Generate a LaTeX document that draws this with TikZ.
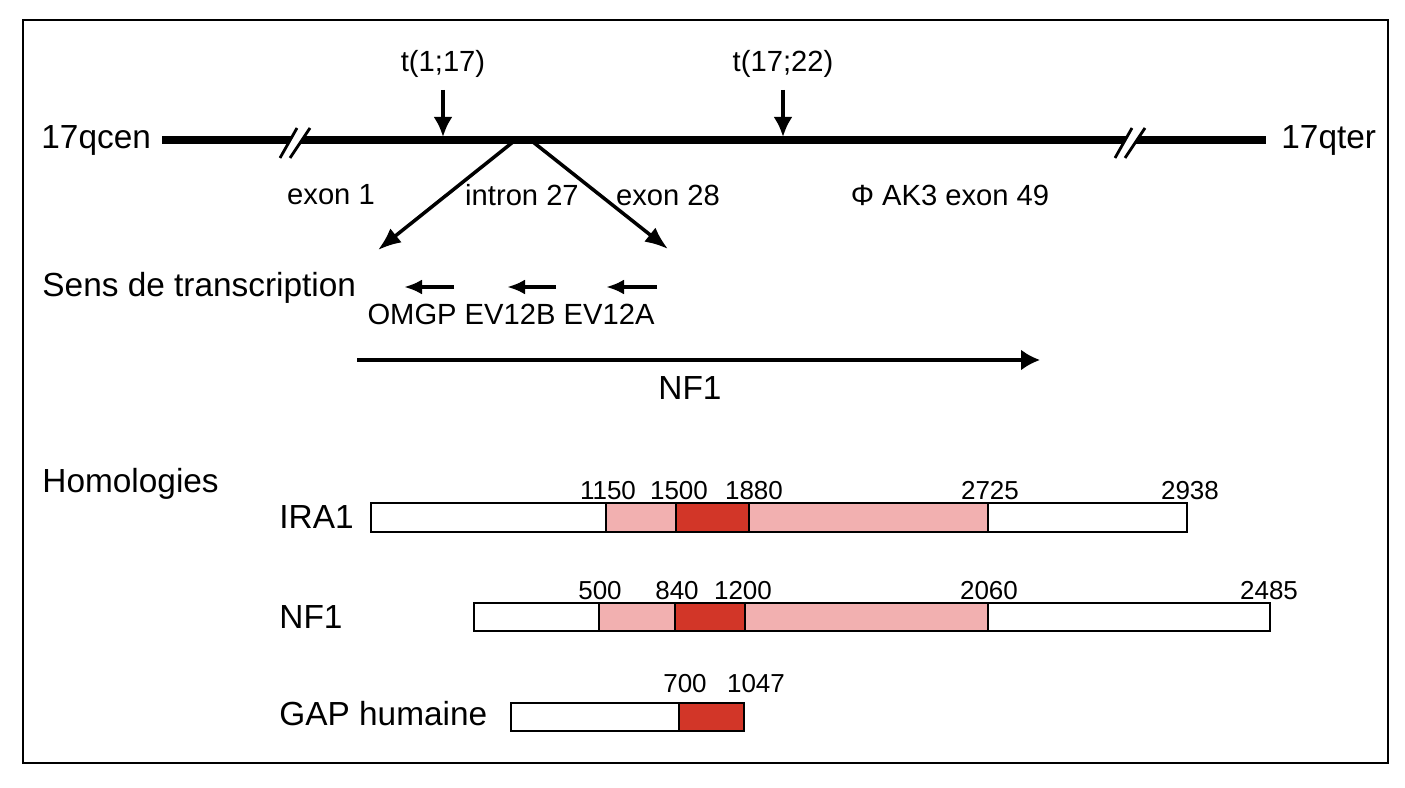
\documentclass[tikz,border=0pt]{standalone}
\usepackage{fontspec}
\setmainfont{Liberation Sans}
\usetikzlibrary{arrows.meta}
\definecolor{rose}{RGB}{242,176,176}
\definecolor{rouge}{RGB}{210,54,40}
\begin{document}
\begin{tikzpicture}[font=\fontsize{9.5}{11}\selectfont,
  moyen/.style={font=\fontsize{8.3}{10}\selectfont},
  chiffre/.style={font=\fontsize{7.4}{9}\selectfont},
  fleche/.style={-{Latex[length=2mm,width=1.9mm]}, line width=1.1pt},
  biais/.style={-{Latex[length=2.3mm,width=1.8mm]}, line width=1pt},
  petite/.style={-{Latex[length=1.8mm,width=1.5mm]}, line width=1.1pt},
  bord/.style={draw, line width=0.7pt}]
\useasboundingbox (0,0) rectangle (14.05,7.88);
% Cadre
\draw[line width=0.7pt] (0.23,0.25) rectangle (13.88,7.68);
% Chromosome 17q
\node[anchor=west] (cen) at (0.29,6.48) {17qcen};
\node[anchor=west] (ter) at (12.69,6.48) {17qter};
\draw[line width=2pt] (1.62,6.48) -- (12.66,6.48);
% Coupures
\fill[white] (2.80,6.30) -- (2.97,6.60) -- (3.10,6.60) -- (2.90,6.30) -- cycle;
\draw[line width=0.8pt] (2.80,6.30) -- (2.97,6.60) (2.90,6.30) -- (3.10,6.60);
\fill[white] (11.15,6.30) -- (11.32,6.60) -- (11.45,6.60) -- (11.25,6.30) -- cycle;
\draw[line width=0.8pt] (11.15,6.30) -- (11.32,6.60) (11.25,6.30) -- (11.45,6.60);
% Translocations
\node[moyen] (t117) at (4.43,7.24) {t(1;17)};
\node[moyen] (t1722) at (7.83,7.24) {t(17;22)};
\coordinate (p117) at (4.43,6.51);
\coordinate (p1722) at (7.83,6.51);
\draw[fleche] (t117.south) -- (p117);
\draw[fleche] (t1722.south) -- (p1722);
% Exons
\node[moyen] (ex1) at (3.31,5.93) {exon 1};
\node[moyen] (in27) at (5.22,5.93) {intron 27};
\node[moyen] (ex28) at (6.68,5.93) {exon 28};
\node[moyen] (ak3) at (9.50,5.93) {Φ AK3 exon 49};
\coordinate (d1) at (5.13,6.46);
\coordinate (d2) at (5.33,6.46);
\coordinate (g1) at (3.78,5.38);
\coordinate (g2) at (6.68,5.39);
\draw[biais] (d1) -- (g1);
\draw[biais] (d2) -- (g2);
% Sens de transcription
\node[anchor=west] (sens) at (0.30,5.00) {Sens de transcription};
\coordinate (a1) at (4.54,5.01); \coordinate (b1) at (4.04,5.01);
\coordinate (a2) at (5.56,5.01); \coordinate (b2) at (5.07,5.01);
\coordinate (a3) at (6.57,5.01); \coordinate (b3) at (6.06,5.01);
\draw[petite] (a1) -- (b1);
\draw[petite] (a2) -- (b2);
\draw[petite] (a3) -- (b3);
\node[moyen] (genes) at (5.11,4.74) {OMGP EV12B EV12A};
\coordinate (nf1a) at (3.57,4.28);
\coordinate (nf1b) at (10.40,4.28);
\draw[-{Latex[length=1.9mm,width=2.1mm]}, line width=0.9pt] (nf1a) -- (nf1b);
\node (nf1) at (6.90,4.00) {NF1};
% Homologies
\node[anchor=west] (homol) at (0.30,3.04) {Homologies};
% IRA1
\node[anchor=west] (ira1) at (2.67,2.71) {IRA1};
\fill[rose] (6.06,2.56) rectangle (9.88,2.85);
\fill[rouge] (6.76,2.56) rectangle (7.49,2.85);
\draw[bord] (3.71,2.56) rectangle (11.87,2.85);
\draw[bord] (6.06,2.56) -- (6.06,2.85) (6.76,2.56) -- (6.76,2.85)
  (7.49,2.56) -- (7.49,2.85) (9.88,2.56) -- (9.88,2.85);
\node[chiffre] (i1150) at (6.08,2.97) {1150};
\node[chiffre] (i1500) at (6.79,2.97) {1500};
\node[chiffre] (i1880) at (7.54,2.97) {1880};
\node[chiffre] (i2725) at (9.90,2.97) {2725};
\node[chiffre] (i2938) at (11.90,2.97) {2938};
% NF1
\node[anchor=west] (nf1p) at (2.67,1.71) {NF1};
\fill[rose] (5.99,1.57) rectangle (9.88,1.85);
\fill[rouge] (6.75,1.57) rectangle (7.45,1.85);
\draw[bord] (4.74,1.57) rectangle (12.70,1.85);
\draw[bord] (5.99,1.57) -- (5.99,1.85) (6.75,1.57) -- (6.75,1.85)
  (7.45,1.57) -- (7.45,1.85) (9.88,1.57) -- (9.88,1.85);
\node[chiffre] (n500) at (6.00,1.97) {500};
\node[chiffre] (n840) at (6.77,1.97) {840};
\node[chiffre] (n1200) at (7.43,1.97) {1200};
\node[chiffre] (n2060) at (9.89,1.97) {2060};
\node[chiffre] (n2485) at (12.69,1.97) {2485};
% GAP humaine
\node[anchor=west] (gap) at (2.67,0.74) {GAP humaine};
\fill[rouge] (6.79,0.57) rectangle (7.44,0.85);
\draw[bord] (5.11,0.57) rectangle (7.44,0.85);
\draw[bord] (6.79,0.57) -- (6.79,0.85);
\node[chiffre] (g700) at (6.85,1.04) {700};
\node[chiffre] (g1047) at (7.56,1.04) {1047};
\end{tikzpicture}
\end{document}
